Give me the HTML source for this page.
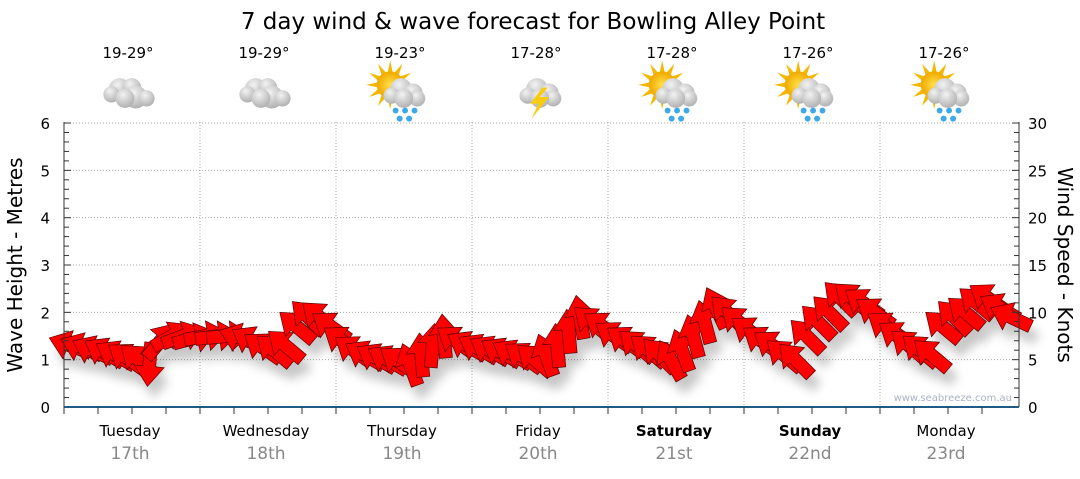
<!DOCTYPE html>
<html><head><meta charset="utf-8">
<style>
body{margin:0;background:#fff;width:1080px;height:475px;overflow:hidden;font-family:"DejaVu Sans","Liberation Sans",sans-serif;}
svg text{font-family:"DejaVu Sans","Liberation Sans",sans-serif;}
</style></head>
<body>
<svg id="chart" width="1080" height="475" xmlns="http://www.w3.org/2000/svg">
<defs>
<filter id="sh" x="-50%" y="-50%" width="200%" height="200%"><feGaussianBlur stdDeviation="5"/></filter>
<radialGradient id="cg" cx="0.4" cy="0.3" r="0.8"><stop offset="0" stop-color="#f2f2f2"/><stop offset="1" stop-color="#a8a8a8"/></radialGradient>
<radialGradient id="sg" cx="0.5" cy="0.5" r="0.5"><stop offset="0" stop-color="#ffe14a"/><stop offset="1" stop-color="#f0a800"/></radialGradient>
</defs>
<text x="533" y="29" font-size="23" text-anchor="middle" fill="#000">7 day wind &amp; wave forecast for Bowling Alley Point</text>
<g id="grid"></g>
<g id="shadows" filter="url(#sh)" opacity="0.22"></g>
<g id="arrows"></g>
<g id="axes"></g>
<g id="header"></g>
<text x="1012" y="401" font-size="10" text-anchor="end" fill="#a8b4c4">www.seabreeze.com.au</text>
<text transform="translate(22,265) rotate(-90)" font-size="20" text-anchor="middle">Wave Height - Metres</text>
<text transform="translate(1058,265) rotate(90)" font-size="20" text-anchor="middle">Wind Speed - Knots</text>
</svg>
<script>
const days=["Tuesday","Wednesday","Thursday","Friday","Saturday","Sunday","Monday"];
const dates=["17th","18th","19th","20th","21st","22nd","23rd"];
const boldDays=[false,false,false,false,true,true,false];
const temps=["19-29°","19-29°","19-23°","17-28°","17-28°","17-26°","17-26°"];
const icons=["cloud","cloud","sunrain","storm","sunrain","sunrain","sunrain"];
const leftTicks=[0,1,2,3,4,5,6];
const rightTicks=[0,5,10,15,20,25,30];
// wind speed (knots) every 2 hours
const windSpeed=[6.5,6.3,6,5.8,5.5,5.2,5,4.5,7,7.5,7.5,7.3, 7.5,7.5,7.5,7.3,7,6.3,6,6.5,8.5,9.5,9.5,8.5, 7,6,5.5,5.2,5,4.8,4.5,5.5,6.5,7.5,7,6.5, 6.2,6,5.8,5.6,5.3,5,5.5,6.5,8,9.5,9,8.5, 7.5,7,6.5,6,5.5,5,6,7.5,9,10.5,10,9, 8,7,6.5,5.5,5,7.5,9,10,11.5,11.5,11,10, 8.5,7.5,6.5,6,5.5,8.5,9.5,10,11,11.5,10.5,9.5];
// arrow heading in screen degrees (0 = right, -90 = up)
const windDir=[-160,-158,-155,-150,-150,-145,-140,95,-50,-30,-20,-15, -10,-8,-5,-160,-150,-145,-140,-140,-140,-135,-140,-145, -145,-145,-150,-150,-150,-145,-110,-95,-85,-95,-145,-150, -150,-150,-150,-150,-145,-140,-110,-95,-95,-100,-140,-145, -145,-145,-140,-140,-135,-120,-110,-105,-105,-115,-135,-140, -145,-145,-145,-140,-135,-135,-135,-135,-135,-140,-145,-145, -145,-145,-140,-140,-140,-140,-135,-140,-140,-145,-150,-155];
const X0=64,DAY=136,Y0=407,PPM=47.33;
const ns="http://www.w3.org/2000/svg";
function el(t,a,p){const e=document.createElementNS(ns,t);for(const k in a)e.setAttribute(k,a[k]);p.appendChild(e);return e;}
function yWave(v){return Y0-v*PPM;}
function yKn(v){return Y0-v*PPM/5;}
function xT(i){return X0+i*(DAY/12)+6;}
const grid=document.getElementById('grid'),axes=document.getElementById('axes'),hdr=document.getElementById('header');
leftTicks.forEach(v=>{ if(v>0){const l=el('line',{x1:X0,x2:1019,y1:yWave(v),y2:yWave(v),stroke:'#aaa','stroke-dasharray':'1,2'},grid);
}
 const t=el('text',{x:50,y:yWave(v)+6,'font-size':15,'text-anchor':'end'},axes);t.textContent=v;
 });
rightTicks.forEach(v=>{const t=el('text',{x:1028,y:yKn(v)+6,'font-size':15},axes);t.textContent=v;
 });
for(let i=0;i<=30;i++){const y=yKn(i);const w=i%5==0?7:5;
 el('line',{x1:X0,x2:X0+w,y1:y,y2:y,stroke:'#333'},axes);el('line',{x1:1019-w,x2:1019,y1:y,y2:y,stroke:'#333'},axes);}
el('line',{x1:X0,x2:X0,y1:122,y2:Y0,stroke:'#333'},axes);
el('line',{x1:1019,x2:1019,y1:122,y2:Y0,stroke:'#333'},axes);
el('line',{x1:X0,x2:1019,y1:Y0,y2:Y0,stroke:'#1f5b86','stroke-width':2},axes);
for(let i=0;i<7*4;i++){const x=X0+i*DAY/4;if(x>1019)break;el('line',{x1:x,x2:x,y1:Y0,y2:Y0+7,stroke:'#333'},axes);}
days.forEach((d,i)=>{const cx=X0+i*DAY+66;
 if(i>0){const g=el('line',{x1:X0+i*DAY,x2:X0+i*DAY,y1:122,y2:Y0,stroke:'#aaa','stroke-dasharray':'1,2'},grid);
 }
 const t=el('text',{x:cx,y:436,'font-size':15,'text-anchor':'middle','font-weight':boldDays[i]?'bold':'normal'},axes);t.textContent=d;
 
 const t2=el('text',{x:cx,y:459,'font-size':17,'text-anchor':'middle',fill:'#888'},axes);t2.textContent=dates[i];
 
 const t3=el('text',{x:cx-2,y:58,'font-size':15,'text-anchor':'middle'},hdr);t3.textContent=temps[i];
 
 const g=el('g',{transform:`translate(${cx-1},93) scale(1.35)`},hdr);
 
 if(icons[i]=='sunrain'){for(let k=0;k<12;k++){const a=k*30*Math.PI/180;el('polygon',{points:`${-8+Math.cos(a)*18},${-6+Math.sin(a)*18} ${-8+Math.cos(a+0.22)*9},${-6+Math.sin(a+0.22)*9} ${-8+Math.cos(a-0.22)*9},${-6+Math.sin(a-0.22)*9}`,fill:'#f5b800'},g);}
  el('circle',{cx:-8,cy:-6,r:10,fill:'url(#sg)'},g);}
 const cl=icons[i]=='cloud'?[[-7,-3,8],[2,-4,7],[-13,1,6],[5,3,8.5],[13,4,6],[-3,4,7]]:[[0,-3,8],[9,0,7],[-7,2,6],[12,4,6],[2,4,7]];
 cl.forEach(c=>el('circle',{cx:c[0],cy:c[1],r:c[2],fill:'url(#cg)'},g));
 if(icons[i]=='sunrain'){[[-4,13],[3,13],[10,13],[-1,19],[6,19]].forEach(p=>el('circle',{cx:p[0],cy:p[1],r:2.2,fill:'#3fa9e8'},g));}
 if(icons[i]=='storm'){el('polygon',{points:'4,-4 -5,8 1,8 -4,19 9,3 2,3 8,-4',fill:'#f8cc10'},g);}
});
const arrG=document.getElementById('arrows'),shG=document.getElementById('shadows');
const pts="22,0 2,-15 2,-6.5 -22,-6.5 -22,6.5 2,6.5 2,15";
windSpeed.forEach((v,i)=>{const x=xT(i),y=yKn(v),a=windDir[i];
 el('polygon',{points:pts,fill:'#000',transform:`translate(${x+6},${y+12}) rotate(${a})`},shG);
 const p=el('polygon',{points:pts,fill:'#ff0000',stroke:'#5a0000','stroke-width':0.7,transform:`translate(${x},${y}) rotate(${a})`},arrG);
 
 
});
</script>
</body></html>
